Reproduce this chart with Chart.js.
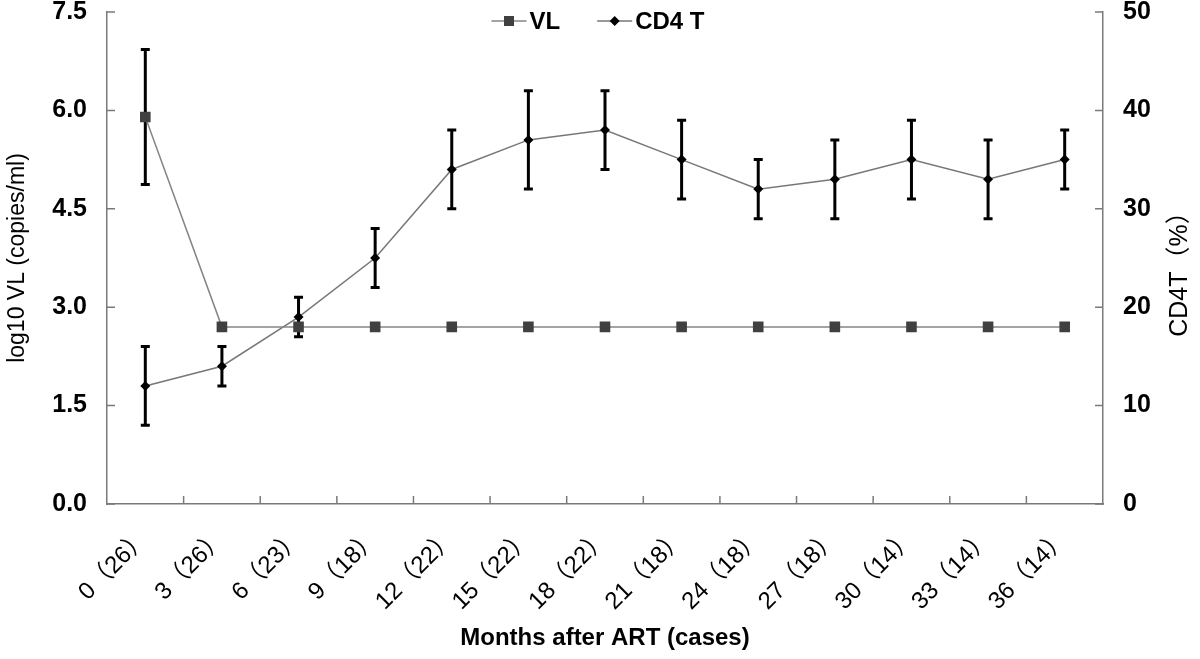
<!DOCTYPE html>
<html>
<head>
<meta charset="utf-8">
<script src="https://cdn.jsdelivr.net/npm/chart.js@4/dist/chart.umd.min.js"></script>
<style>
  html, body { margin: 0; padding: 0; background: #fff; }
  #wrap { width: 1200px; height: 659px; position: relative; }
</style>
</head>
<body>
<div id="wrap"><canvas id="c" width="1200" height="659"></canvas></div>
<script>
// ---- data ----
const months = ['0','3','6','9','12','15','18','21','24','27','30','33','36'];
const cases = ['26','26','23','18','22','22','22','18','18','18','14','14','14'];
const categories = months.map((m, i) => m + '（' + cases[i] + '）');
const vlValues = [5.9, 2.7, 2.7, 2.7, 2.7, 2.7, 2.7, 2.7, 2.7, 2.7, 2.7, 2.7, 2.7];
const vlErrors = [1.03, null, null, null, null, null, null, null, null, null, null, null, null];
const cd4Values = [12, 14, 19, 25, 34, 37, 38, 35, 32, 33, 35, 33, 35];
const cd4Errors = [4, 2, 2, 3, 4, 5, 4, 4, 3, 4, 4, 4, 3];
const vlTicks = [0, 1.5, 3.0, 4.5, 6.0, 7.5];
const cd4Ticks = [0, 10, 20, 30, 40, 50];
const seriesNames = ['VL', 'CD4 T'];
const leftTitle = 'log10 VL (copies/ml)';
const rightTitle = 'CD4T（%）';
const xTitle = 'Months after ART (cases)';

const FONT = "'Liberation Sans', Arial, 'Noto Sans CJK SC', sans-serif";
const AXIS_COLOR = '#7a7a7a';
const VL_LINE = '#858585';
const CD4_LINE = '#777';

const errorBarPlugin = {
  id: 'errorBars',
  beforeDatasetsDraw(chart) {
    const ctx = chart.ctx;
    const x = chart.scales.x;
    const sets = [
      { vals: vlValues, errs: vlErrors, scale: chart.scales.y },
      { vals: cd4Values, errs: cd4Errors, scale: chart.scales.y1 }
    ];
    ctx.save();
    ctx.strokeStyle = '#000';
    ctx.lineWidth = 3;
    sets.forEach(s => {
      s.vals.forEach((v, i) => {
        const e = s.errs[i];
        if (e == null) return;
        const px = x.getPixelForValue(i);
        const top = s.scale.getPixelForValue(v + e);
        const bot = s.scale.getPixelForValue(v - e);
        ctx.beginPath();
        ctx.moveTo(px, top); ctx.lineTo(px, bot);
        ctx.moveTo(px - 4.5, top); ctx.lineTo(px + 4.5, top);
        ctx.moveTo(px - 4.5, bot); ctx.lineTo(px + 4.5, bot);
        ctx.stroke();
      });
    });
    ctx.restore();
  }
};

const decorPlugin = {
  id: 'decor',
  afterDraw(chart) {
    const ctx = chart.ctx;
    const a = chart.chartArea;
    const L = 8;
    ctx.save();
    // inward tick marks
    ctx.strokeStyle = AXIS_COLOR;
    ctx.lineWidth = 1.5;
    ctx.beginPath();
    vlTicks.forEach(v => {
      const py = chart.scales.y.getPixelForValue(v);
      ctx.moveTo(a.left, py); ctx.lineTo(a.left + L, py);
    });
    cd4Ticks.forEach(v => {
      const py = chart.scales.y1.getPixelForValue(v);
      ctx.moveTo(a.right, py); ctx.lineTo(a.right - L, py);
    });
    const xs = chart.scales.x;
    for (let i = 1; i < categories.length; i++) {
      const px = (xs.getPixelForValue(i - 1) + xs.getPixelForValue(i)) / 2;
      ctx.moveTo(px, a.bottom); ctx.lineTo(px, a.bottom - L);
    }
    ctx.stroke();

    // right axis title, reading bottom-to-top
    ctx.save();
    ctx.translate(chart.width - 20, (a.top + a.bottom) / 2 + 10);
    ctx.rotate(-Math.PI / 2);
    ctx.fillStyle = '#000';
    ctx.font = "25px " + FONT;
    ctx.textAlign = 'center';
    ctx.textBaseline = 'middle';
    ctx.fillText(rightTitle, 0, 0);
    ctx.restore();

    // legend (line + marker + label), centred at top of the plot
    ctx.font = "bold 24px " + FONT;
    ctx.textBaseline = 'middle';
    ctx.textAlign = 'left';
    const lineW = 35, gapText = 3, gapItem = 37;
    const widths = seriesNames.map(n => lineW + gapText + ctx.measureText(n).width);
    const total = widths[0] + gapItem + widths[1];
    let x0 = (a.left + a.right) / 2 - 7 - total / 2;
    const ly = a.top + 9;
    seriesNames.forEach((n, k) => {
      ctx.strokeStyle = k === 0 ? VL_LINE : CD4_LINE;
      ctx.lineWidth = 1.5;
      ctx.beginPath(); ctx.moveTo(x0, ly); ctx.lineTo(x0 + lineW, ly); ctx.stroke();
      const cx = x0 + lineW / 2;
      if (k === 0) {
        ctx.fillStyle = '#404040';
        ctx.fillRect(cx - 5, ly - 5, 10, 10);
      } else {
        ctx.fillStyle = '#000';
        ctx.beginPath();
        ctx.moveTo(cx, ly - 5); ctx.lineTo(cx + 5, ly); ctx.lineTo(cx, ly + 5); ctx.lineTo(cx - 5, ly);
        ctx.closePath(); ctx.fill();
      }
      ctx.fillStyle = '#000';
      ctx.fillText(n, x0 + lineW + gapText, ly + 1);
      x0 += widths[k] + gapItem;
    });
    ctx.restore();
  }
};

new Chart(document.getElementById('c'), {
  type: 'line',
  data: {
    labels: categories,
    datasets: [
      {
        label: seriesNames[0],
        data: vlValues,
        yAxisID: 'y',
        borderColor: VL_LINE,
        borderWidth: 1.5,
        pointStyle: 'rect',
        pointRadius: 7.5,
        pointBackgroundColor: '#404040',
        pointBorderColor: '#404040',
        pointBorderWidth: 0,
        tension: 0
      },
      {
        label: seriesNames[1],
        data: cd4Values,
        yAxisID: 'y1',
        borderColor: CD4_LINE,
        borderWidth: 1.5,
        pointStyle: 'rectRot',
        pointRadius: 5,
        pointBackgroundColor: '#000',
        pointBorderColor: '#000',
        pointBorderWidth: 0,
        tension: 0
      }
    ]
  },
  options: {
    responsive: false,
    animation: false,
    layout: { padding: { top: 12, left: 0, right: 0, bottom: 0 } },
    plugins: {
      tooltip: { enabled: false },
      legend: { display: false }
    },
    scales: {
      x: {
        type: 'category',
        offset: true,
        grid: { display: true, drawOnChartArea: false, drawTicks: false, offset: true },
        border: { display: true, color: AXIS_COLOR, width: 1.5 },
        ticks: {
          autoSkip: false,
          minRotation: 45, maxRotation: 45,
          padding: 20,
          color: '#000',
          font: { family: FONT, size: 24 }
        },
        title: {
          display: true,
          text: xTitle,
          color: '#000',
          font: { family: FONT, size: 24, weight: 'bold' },
          padding: { top: 0, bottom: 6 }
        },
        afterFit(s) { s.height = 155; s.paddingLeft = 0; s.paddingRight = 0; }
      },
      y: {
        position: 'left',
        min: 0, max: 7.5,
        afterBuildTicks(s) { s.ticks = vlTicks.map(v => ({ value: v })); },
        grid: { display: true, drawOnChartArea: false, drawTicks: false },
        border: { display: true, color: AXIS_COLOR, width: 1.5 },
        ticks: {
          padding: 20,
          color: '#000',
          font: { family: FONT, size: 25, weight: 'bold' },
          callback: v => Number(v).toFixed(1)
        },
        title: {
          display: true,
          text: leftTitle,
          color: '#000',
          font: { family: FONT, size: 23 },
          padding: { top: 4, bottom: 0 }
        },
        afterFit(s) { s.width = 107; s.paddingTop = 0; s.paddingBottom = 0; }
      },
      y1: {
        position: 'right',
        min: 0, max: 50,
        afterBuildTicks(s) { s.ticks = cd4Ticks.map(v => ({ value: v })); },
        grid: { display: true, drawOnChartArea: false, drawTicks: false },
        border: { display: true, color: AXIS_COLOR, width: 1.5 },
        ticks: {
          padding: 20,
          color: '#000',
          font: { family: FONT, size: 25, weight: 'bold' },
          callback: v => String(v)
        },
        afterFit(s) { s.width = 97; s.paddingTop = 0; s.paddingBottom = 0; }
      }
    }
  },
  plugins: [errorBarPlugin, decorPlugin]
});
</script>
</body>
</html>
